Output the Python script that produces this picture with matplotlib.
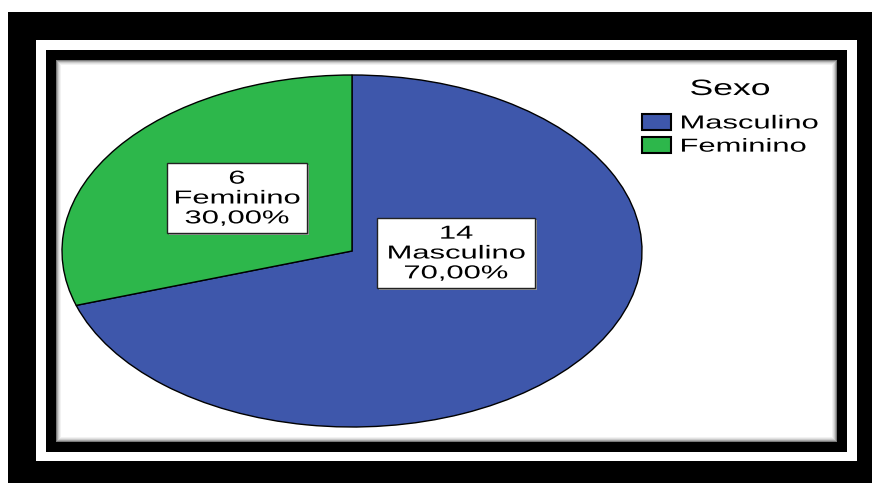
import matplotlib.pyplot as plt
from matplotlib.patches import Rectangle
from matplotlib.patheffects import AbstractPathEffect
from matplotlib.transforms import Affine2D

# data
categories = ["Masculino", "Feminino"]
counts = [14, 6]
colors = ["#3e57ab", "#2db74b"]

W, H = 872, 483
FONT = "Liberation Sans"
FS = 13.5
SX = 1.65  # the original SPSS export is stretched sideways


class HStretch(AbstractPathEffect):
    """Scale drawn text horizontally: display x -> x1 + (x - x0) * sx."""

    def __init__(self, sx, x0, x1=None):
        super().__init__()
        self.sx = sx
        self.x0 = x0
        self.x1 = x0 if x1 is None else x1

    def draw_path(self, renderer, gc, tpath, affine, rgbFace=None):
        t = affine + Affine2D().translate(-self.x0, 0).scale(self.sx, 1).translate(self.x1, 0)
        renderer.draw_path(gc, tpath, t, rgbFace)


def px_rect(x0, y0, x1, y1, **kw):
    # rectangle given in image pixels (origin top-left)
    return Rectangle((x0 / W, 1 - y1 / H), (x1 - x0) / W, (y1 - y0) / H,
                     transform=fig.transFigure, **kw)


fig = plt.figure(figsize=(W / 100, H / 100), dpi=100)
fig.patch.set_facecolor("white")

# frame: black, white, black, then the chart area with a soft inner shadow
fig.patches.append(px_rect(8, 12, 872, 483, facecolor="black", edgecolor="none", zorder=-5))
fig.patches.append(px_rect(36, 40, 857, 461, facecolor="white", edgecolor="none", zorder=-5))
fig.patches.append(px_rect(46, 50, 847, 452, facecolor="black", edgecolor="none", zorder=-5))
shades = ["#7a7a7a", "#a8a8a8", "#cbcbcb", "#e2e2e2", "#f2f2f2", "white"]
for i, c in enumerate(shades):
    fig.patches.append(px_rect(56 + i, 60 + i, 837 - i, 442 - i, facecolor=c,
                               edgecolor="none", zorder=-5))

ax = fig.add_axes([62 / W, 1 - 427 / H, 580 / W, 352 / H])
wedges, _ = ax.pie(counts, colors=colors, startangle=90, counterclock=False,
                   wedgeprops=dict(edgecolor="black", linewidth=1.0))
ax.set_aspect("auto")
ax.set_xlim(-1, 1)
ax.set_ylim(-1, 1)
ax.axis("off")

# data labels in white boxes
total = sum(counts)
label_boxes = [(377, 218, 535, 288), (167, 163, 307, 233)]
for (cat, n), (bx0, by0, bx1, by1) in zip(zip(categories, counts), label_boxes):
    fig.patches.append(px_rect(bx0 + 2, by0 + 2, bx1 + 2, by1 + 2, facecolor="#9a9a9a",
                               edgecolor="none", zorder=2))
    fig.patches.append(px_rect(bx0, by0, bx1, by1, facecolor="white",
                               edgecolor="#222222", linewidth=1.0, zorder=2))
    pct = f"{100 * n / total:.2f}%".replace(".", ",")
    cx, cy = (bx0 + bx1) / 2, (by0 + by1) / 2
    t = fig.text(cx / W, 1 - (cy + 1) / H, f"{n}\n{cat}\n{pct}", ha="center", va="center",
                 fontsize=FS, family=FONT, linespacing=1.22, zorder=3)
    t.set_path_effects([HStretch(SX, cx)])

leg = fig.legend(wedges, categories, title="Sexo", loc="upper left",
                 bbox_to_anchor=(642 / W, 1 - 79 / H), frameon=False,
                 prop=dict(family=FONT, size=FS),
                 title_fontproperties=dict(family=FONT, size=16),
                 handlelength=1.55, handleheight=0.95, handletextpad=0.45,
                 labelspacing=0.25, borderpad=0, borderaxespad=0)
leg._legend_box.sep = 10
leg._legend_box.align = "left"
for h in leg.legend_handles:
    h.set_edgecolor("black")
    h.set_linewidth(1.5)

# stretch legend texts in place once their positions are known
fig.canvas.draw()
for txt in leg.get_texts():
    bb = txt.get_window_extent()
    txt.set_path_effects([HStretch(SX, bb.x0)])
tt = leg.get_title()
bb = tt.get_window_extent()
tt.set_path_effects([HStretch(1.6, (bb.x0 + bb.x1) / 2, 730)])

fig.savefig("out.png", dpi=100)
